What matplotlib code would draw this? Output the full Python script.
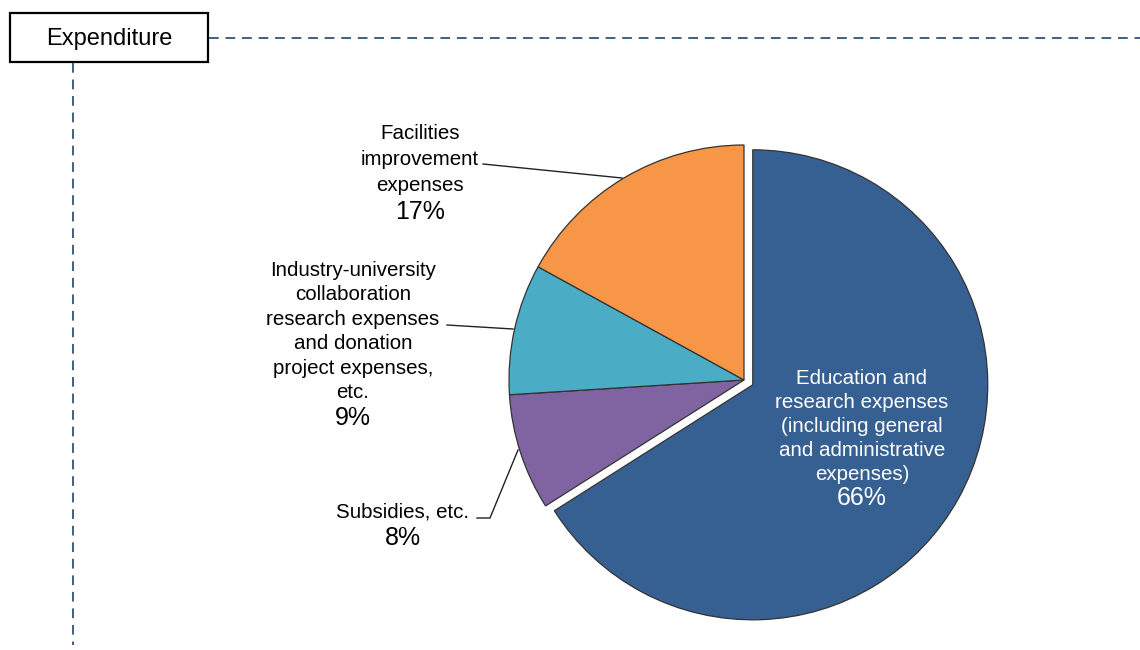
import matplotlib.pyplot as plt
from matplotlib.patches import Rectangle

plt.rcParams['font.family'] = ['Liberation Sans', 'DejaVu Sans']

# expenditure breakdown (%), clockwise from 12 o'clock
categories = ['Education and\nresearch expenses\n(including general\nand administrative\nexpenses)',
              'Subsidies, etc.',
              'Industry-university\ncollaboration\nresearch expenses\nand donation\nproject expenses,\netc.',
              'Facilities\nimprovement\nexpenses']
values = [66, 8, 9, 17]
colors = ['#376092', '#8064A2', '#4BACC6', '#F79646']

W, H = 1140, 650
fig = plt.figure(figsize=(11.4, 6.5), dpi=100)
ax = fig.add_axes([0, 0, 1, 1])

def py(y):
    # screen-style y (from top) to axes y
    return H - y

cx, cy, r = 744, py(380), 235
# explode offset is in data units here (pixels)
wedges, _ = ax.pie(values, colors=colors, startangle=90, counterclock=False,
                   explode=[10, 0, 0, 0], radius=r, center=(cx, cy),
                   wedgeprops=dict(edgecolor='#333333', linewidth=0.9))
ax.set_xlim(0, W)
ax.set_ylim(0, H)
ax.set_aspect('auto')
ax.axis('off')

fs = 14.8
pfs = 18

# education (inside slice, white)
ax.text(862, py(426.5), categories[0], ha='center', va='center', fontsize=fs,
        color='white', linespacing=1.34)
ax.text(862, py(498), f'{values[0]}%', ha='center', va='center', fontsize=pfs, color='white')

# subsidies
ax.text(402, py(512), categories[1], ha='center', va='center', fontsize=fs)
ax.text(403, py(538), f'{values[1]}%', ha='center', va='center', fontsize=pfs)
ax.plot([477, 490, 518], [py(518), py(518), py(450)], color='#222222', lw=1)

# industry-university
ax.text(353, py(331.5), categories[2], ha='center', va='center', fontsize=fs, linespacing=1.36)
ax.text(353, py(418), f'{values[2]}%', ha='center', va='center', fontsize=pfs)
ax.plot([447, 513], [py(325), py(329)], color='#222222', lw=1)

# facilities
ax.text(420, py(159.5), categories[3], ha='center', va='center', fontsize=fs, linespacing=1.45)
ax.text(420, py(212), f'{values[3]}%', ha='center', va='center', fontsize=pfs)
ax.plot([483, 622], [py(164), py(178)], color='#222222', lw=1)

# header box and dashed guide lines
ax.add_patch(Rectangle((10, py(62)), 198, 49, facecolor='white', edgecolor='black', lw=1.6))
ax.text(109, py(38.5), 'Expenditure', ha='center', va='center', fontsize=17)
dash = dict(color='#3E5F8A', lw=1.4, linestyle=(0, (5, 3.5)))
ax.plot([209, W], [py(38), py(38)], **dash)
ax.plot([73, 73], [py(63), py(645)], **dash)

fig.savefig('out.png', dpi=100)
